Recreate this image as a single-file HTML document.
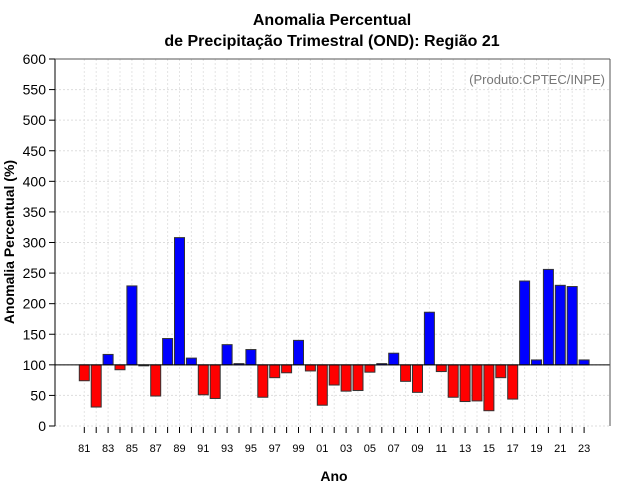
<!DOCTYPE html>
<html><head><meta charset="utf-8"><style>body{margin:0;background:#fff}svg{display:block}</style></head>
<body>
<svg id="c" width="640" height="500" xmlns="http://www.w3.org/2000/svg" font-family="Liberation Sans, sans-serif"></svg>
<script>
const years=[81,82,83,84,85,86,87,88,89,90,91,92,93,94,95,96,97,98,99,0,1,2,3,4,5,6,7,8,9,10,11,12,13,14,15,16,17,18,19,20,21,22,23];
const values=[74,31,117,92,229,99,49,143,308,111,51,45,133,102,125,47,79,87,140,90,34,67,57,58,88,102,119,73,55,186,89,47,40,41,25,79,44,237,108,256,230,228,108];
const yTicks=[0,50,100,150,200,250,300,350,400,450,500,550,600];
const baseline=100;
const svg=document.getElementById('c');const NS='http://www.w3.org/2000/svg';
function mk(t,a,txt){const e=document.createElementNS(NS,t);for(const k in a)e.setAttribute(k,a[k]);if(txt!=null)e.textContent=txt;svg.appendChild(e);return e;}
const L=55,R=610,T=59,B=426;
const y=v=>B-(v/600)*(B-T);
const x=i=>84.3+i*11.9;
// grid
yTicks.forEach(v=>{const g=mk('line',{x1:L,x2:R,y1:y(v),y2:y(v),stroke:'#ddd','stroke-dasharray':'2,2'});

});
years.forEach((yr,i)=>{const g=mk('line',{x1:x(i),x2:x(i),y1:T,y2:B,stroke:'#e4e4e4','stroke-dasharray':'2,2'});

});
// bars
values.forEach((v,i)=>{const y0=y(baseline),y1=y(v);const r=mk('rect',{x:x(i)-5,y:Math.min(y0,y1),width:10,height:Math.max(Math.abs(y1-y0),1),fill:v>=baseline?'#0000ff':'#ff0000',stroke:'#333','stroke-width':1});

});
mk('line',{x1:L,x2:R,y1:y(baseline),y2:y(baseline),stroke:'#000'});
// axes
mk('line',{x1:L,x2:L,y1:T,y2:B,stroke:'#000'});
mk('line',{x1:L,x2:R,y1:T,y2:T,stroke:'#555'});
mk('line',{x1:R,x2:R,y1:T,y2:B,stroke:'#555'});
yTicks.forEach(v=>{mk('line',{x1:L-6,x2:L,y1:y(v),y2:y(v),stroke:'#000'});
const t=mk('text',{x:L-9,y:y(v)+5,'text-anchor':'end','font-size':14},v);

});
years.forEach((yr,i)=>{mk('line',{x1:x(i),x2:x(i),y1:B+1,y2:B+7,stroke:'#000'});
if(i%2===0){const t=mk('text',{x:x(i),y:452,'text-anchor':'middle','font-size':11},String(yr).padStart(2,'0'));

}});
</script>
<svg style="position:absolute;left:0;top:0" width="640" height="500" font-family="Liberation Sans, sans-serif">
<text x="332" y="25" text-anchor="middle" font-size="16" font-weight="bold">Anomalia Percentual</text>
<text x="332" y="46" text-anchor="middle" font-size="16" font-weight="bold">de Precipitação Trimestral (OND): Região 21</text>
<text x="605" y="84" text-anchor="end" font-size="13" fill="#777">(Produto:CPTEC/INPE)</text>
<text x="334" y="481" text-anchor="middle" font-size="14" font-weight="bold">Ano</text>
<text transform="translate(14,242) rotate(-90)" text-anchor="middle" font-size="14" font-weight="bold">Anomalia Percentual (%)</text>
</svg>
</body></html>
